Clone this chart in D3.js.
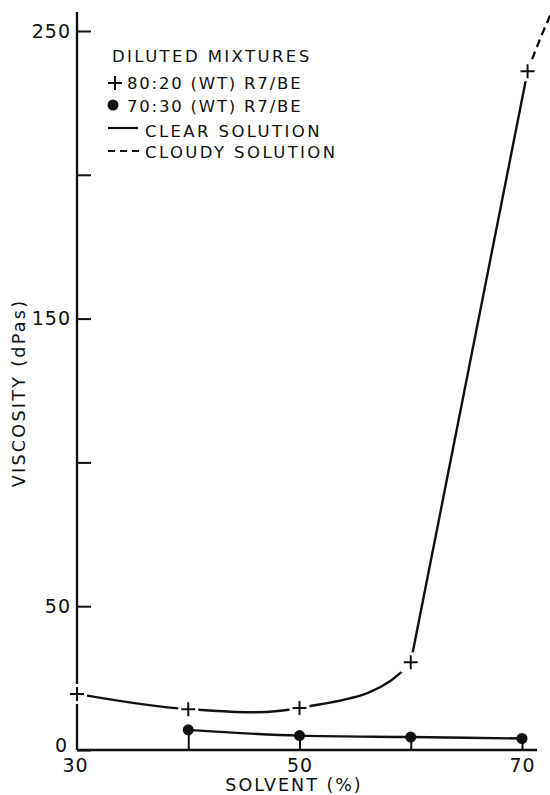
<!DOCTYPE html>
<html>
<head>
<meta charset="utf-8">
<script src="https://cdn.jsdelivr.net/npm/d3@7/dist/d3.min.js"></script>
<style>
  html, body { margin: 0; padding: 0; background: #fff; }
  svg { display: block; }
  text { font-family: "DejaVu Sans", sans-serif; fill: #111; }
</style>
</head>
<body>
<script>
// Solvent content (%) and measured viscosities (dPas)
const solvent = [30, 40, 50, 60, 70.5];
const visc8020 = [19.5, 14.2, 14.6, 30.5, 236];
const solvent7030 = [40, 50, 60, 70];
const visc7030 = [7, 5, 4.5, 4];
// cloudy continuation of the 80:20 curve beyond the last measurement
const cloudySolvent = [70.5, 71.6, 72.6];
const cloudyVisc = [236, 247, 256];

const xTicks = [30, 40, 50, 60, 70];
const xTickLabels = { 30: "30", 50: "50", 70: "70" };
const yTicks = [0, 50, 100, 150, 200, 250];
const yTickLabels = { 0: "0", 50: "50", 150: "150", 250: "250" };

const W = 550, H = 795;
const svg = d3.select("body").append("svg").attr("width", W).attr("height", H);

const x = d3.scaleLinear().domain([30, 70]).range([77, 522]);
const y = d3.scaleLinear().domain([0, 250]).range([750, 31]);

const ink = "#111";

// axes
svg.append("line").attr("x1", x(30)).attr("x2", x(30)).attr("y1", 12).attr("y2", y(0))
  .attr("stroke", ink).attr("stroke-width", 2.4);
svg.append("line").attr("x1", x(30)).attr("x2", 537).attr("y1", y(0)).attr("y2", y(0))
  .attr("stroke", ink).attr("stroke-width", 2.4);

const yAxis = svg.append("g").attr("transform", `translate(${x(30)},0)`)
  .call(d3.axisLeft(y).tickValues(yTicks).tickSize(-14).tickSizeOuter(0).tickPadding(6)
    .tickFormat(d => yTickLabels[d] || ""));
yAxis.select(".domain").remove();
yAxis.selectAll(".tick line").attr("stroke", ink).attr("stroke-width", 2);
yAxis.selectAll(".tick text").attr("font-size", 19).attr("fill", ink)
  .attr("letter-spacing", 1).attr("font-family", "DejaVu Sans, sans-serif");
yAxis.selectAll(".tick").filter(d => d === 0).select("text").attr("dy", "0.1em").attr("x", -9);

const xAxis = svg.append("g").attr("transform", `translate(0,${y(0)})`)
  .call(d3.axisBottom(x).tickValues(xTicks).tickSize(-15).tickSizeOuter(0).tickPadding(9)
    .tickFormat(d => xTickLabels[d] || ""));
xAxis.select(".domain").remove();
xAxis.selectAll(".tick line").attr("stroke", ink).attr("stroke-width", 2)
  .attr("display", d => d === 30 ? "none" : null);
xAxis.selectAll(".tick text").attr("font-size", 19).attr("fill", ink)
  .attr("letter-spacing", 1).attr("font-family", "DejaVu Sans, sans-serif");
xAxis.selectAll(".tick").filter(d => d === 30).select("text").attr("x", -2);

// axis titles
svg.append("text").attr("transform", "translate(25,393) rotate(-90)")
  .attr("text-anchor", "middle").attr("font-size", 17.5).attr("letter-spacing", 2.3)
  .text("VISCOSITY (dPas)");
svg.append("text").attr("x", 294).attr("y", 791)
  .attr("text-anchor", "middle").attr("font-size", 17.5).attr("letter-spacing", 2)
  .text("SOLVENT (%)");

// 70:30 series
const data7030 = solvent7030.map((s, i) => [s, visc7030[i]]);
svg.append("path").datum(data7030)
  .attr("d", d3.line().x(d => x(d[0])).y(d => y(d[1])).curve(d3.curveMonotoneX))
  .attr("fill", "none").attr("stroke", ink).attr("stroke-width", 2.4);
svg.selectAll(".dot").data(data7030).join("circle")
  .attr("cx", d => x(d[0])).attr("cy", d => y(d[1])).attr("r", 5.5).attr("fill", ink);

// 80:20 series: smooth low-solvent part, near-straight steep rise, cloudy tail
const data8020 = solvent.map((s, i) => [s, visc8020[i]]);
const defs = svg.append("defs");
defs.append("clipPath").attr("id", "clipLow").append("rect")
  .attr("x", 0).attr("y", 0).attr("width", x(60)).attr("height", H);

svg.append("path").datum(data8020)
  .attr("clip-path", "url(#clipLow)")
  .attr("d", d3.line().x(d => x(d[0])).y(d => y(d[1])).curve(d3.curveCatmullRom.alpha(0.5)))
  .attr("fill", "none").attr("stroke", ink).attr("stroke-width", 2.4);
svg.append("path").datum(data8020.slice(3))
  .attr("d", d3.line().x(d => x(d[0])).y(d => y(d[1])))
  .attr("fill", "none").attr("stroke", ink).attr("stroke-width", 2.4);

const cloudy = cloudySolvent.map((s, i) => [s, cloudyVisc[i]]);
svg.append("path").datum(cloudy)
  .attr("d", d3.line().x(d => x(d[0])).y(d => y(d[1])).curve(d3.curveCatmullRom.alpha(0.5)))
  .attr("fill", "none").attr("stroke", ink).attr("stroke-width", 2.4)
  .attr("stroke-dasharray", "8,5");

// plus markers with a small clear gap around each
const pm = svg.selectAll(".plus").data(data8020).join("g")
  .attr("transform", d => `translate(${x(d[0])},${y(d[1])})`);
pm.append("rect").attr("x", -10).attr("y", -10).attr("width", 20).attr("height", 20).attr("fill", "#fff");
pm.append("path").attr("d", "M-7,0H7M0,-7V7").attr("stroke", ink).attr("stroke-width", 2);

// legend
const lg = svg.append("g").attr("font-size", 16.5).attr("letter-spacing", 2.4);
lg.append("text").attr("x", 112).attr("y", 62).text("DILUTED MIXTURES");
lg.append("path").attr("d", "M108,83H122M115,76V90").attr("stroke", ink).attr("stroke-width", 2);
lg.append("text").attr("x", 127).attr("y", 89).attr("letter-spacing", 1.8).text("80:20 (WT) R7/BE");
lg.append("circle").attr("cx", 113).attr("cy", 105).attr("r", 5.5).attr("fill", ink);
lg.append("text").attr("x", 127).attr("y", 112).attr("letter-spacing", 1.8).text("70:30 (WT) R7/BE");
lg.append("line").attr("x1", 108).attr("x2", 138).attr("y1", 128).attr("y2", 128)
  .attr("stroke", ink).attr("stroke-width", 2.2);
lg.append("text").attr("x", 145).attr("y", 137).text("CLEAR SOLUTION");
lg.append("line").attr("x1", 108).attr("x2", 141).attr("y1", 151).attr("y2", 151)
  .attr("stroke", ink).attr("stroke-width", 2.2).attr("stroke-dasharray", "7,5");
lg.append("text").attr("x", 145).attr("y", 158).text("CLOUDY SOLUTION");
</script>
</body>
</html>
